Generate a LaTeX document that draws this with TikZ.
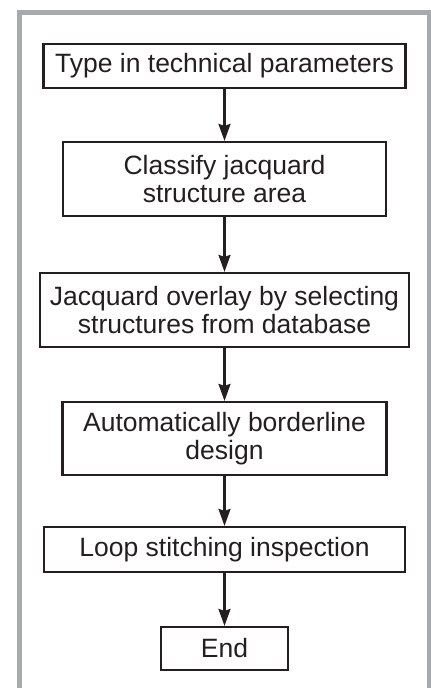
\documentclass[tikz,border=0pt]{standalone}
\usepackage{fontspec}
\setmainfont{Liberation Sans}
\usetikzlibrary{arrows.meta}

\definecolor{inkblack}{HTML}{231F20}
\definecolor{framegray}{HTML}{A7A9AC}

\tikzset{
  procbox/.style={draw=inkblack, line width=2.2pt, inner sep=0pt, align=center,
    text=inkblack, font=\fontsize{26.5}{27.5}\selectfont},
  flowarrow/.style={draw=inkblack, line width=2.2pt,
    -{Stealth[length=17pt,width=12pt,inset=2pt]}}
}

\begin{document}
\begin{tikzpicture}[x=1pt,y=-1pt]
  \useasboundingbox (0,0) rectangle (431,688);

  % outer frame
  \draw[framegray, line width=5pt] (19.5,690) -- (19.5,12.5) -- (429,12.5) -- (429,690);


  \node[procbox, minimum width=362pt, minimum height=44pt] (params) at (224.5,66)
    {Type in technical parameters};

  \node[procbox, minimum width=323pt, minimum height=74pt] (classify) at (224.5,179)
    {Classify jacquard\\structure area};

  \node[procbox, minimum width=369pt, minimum height=74pt] (overlay) at (224.5,310)
    {Jacquard overlay by selecting\\structures from database};

  \node[procbox, minimum width=324pt, minimum height=73pt] (border) at (224.5,438.5)
    {Automatically borderline\\design};

  \node[procbox, minimum width=361pt, minimum height=45pt] (inspect) at (224.5,549.5)
    {Loop stitching inspection};

  \node[procbox, minimum width=127pt, minimum height=43pt] (finish) at (224.5,648.5)
    {End};


  \draw[flowarrow] (params) -- (classify);
  \draw[flowarrow] (classify) -- (overlay);
  \draw[flowarrow] (overlay) -- (border);
  \draw[flowarrow] (border) -- (inspect);
  \draw[flowarrow] (inspect) -- (finish);

\end{tikzpicture}
\end{document}
